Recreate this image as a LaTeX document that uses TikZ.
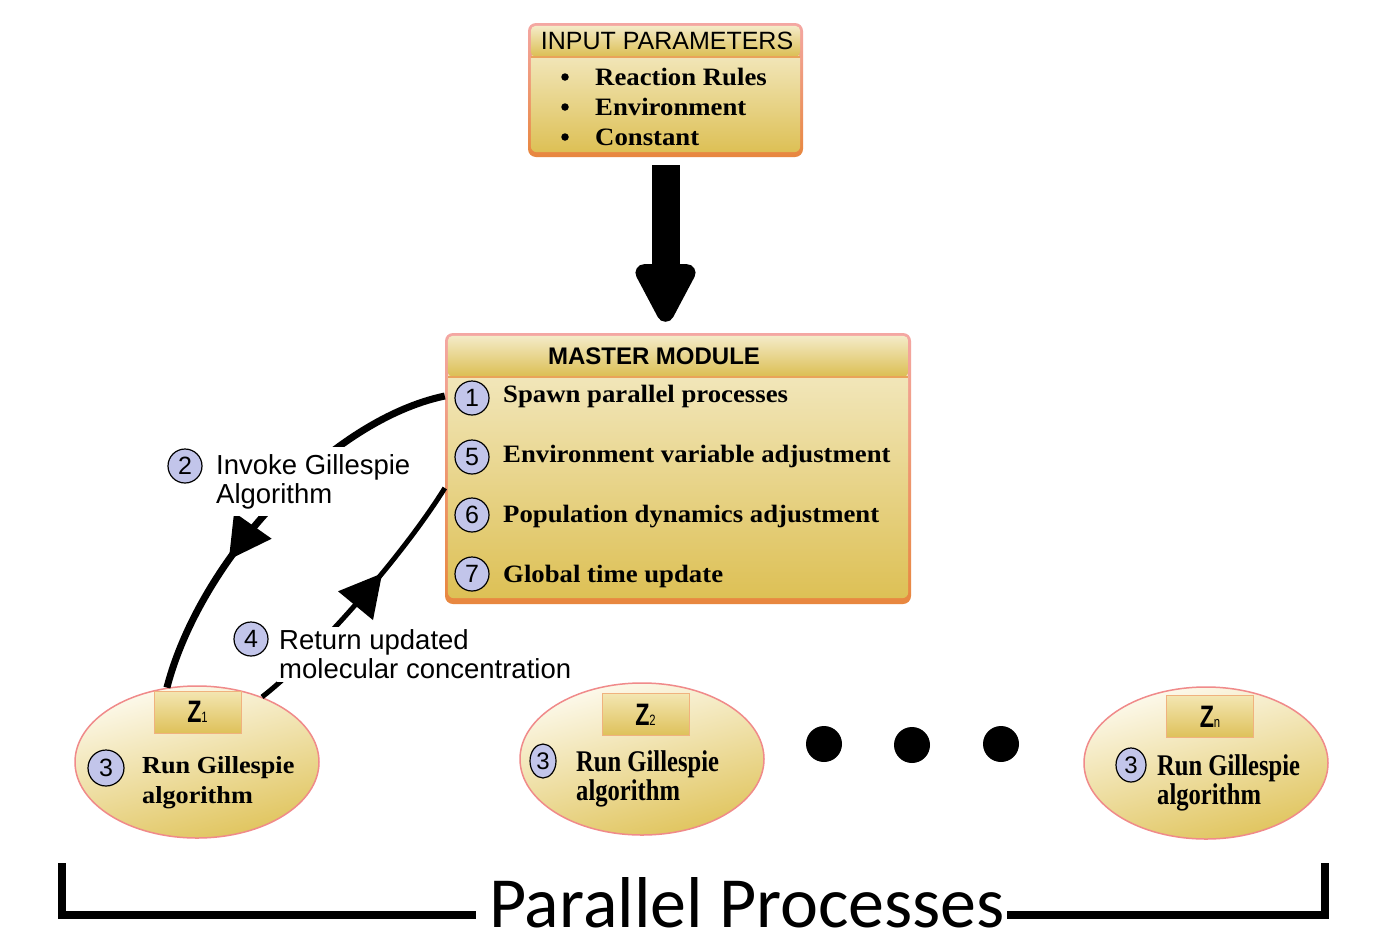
\documentclass[tikz,border=0pt]{standalone}
\usepackage{fontspec}
\setmainfont{Liberation Serif}
\setsansfont{Liberation Sans}
\newfontfamily\cambf[FakeStretch=1.07]{Liberation Serif}
\newfontfamily\condf[FakeStretch=0.82]{Liberation Serif}
\newfontfamily\zedf[FakeStretch=0.75]{Liberation Sans}
\newfontfamily\arlf{Liberation Sans}
\newfontfamily\calf{Carlito}
\usetikzlibrary{arrows.meta,decorations.markings,shapes.geometric,calc}
\definecolor{bdtop}{HTML}{F4A7A3}
\definecolor{bdbot}{HTML}{E8873F}
\definecolor{bodytop}{HTML}{F2E7BC}
\definecolor{bodybot}{HTML}{DDC055}
\definecolor{hdtop}{HTML}{F4EBC8}
\definecolor{hdbot}{HTML}{DBBE52}
\definecolor{hdline}{HTML}{E9A35A}
\definecolor{numfill}{HTML}{C2C5EA}
\definecolor{ellbd}{HTML}{F08A8A}
\definecolor{elltop}{HTML}{FDFAEE}
\definecolor{ellbot}{HTML}{E0C45C}
\definecolor{zbd}{HTML}{F0B27E}
\definecolor{ztop}{HTML}{F3E6B2}
\definecolor{zbot}{HTML}{DEC15A}
\tikzset{
  outerbox/.style={rectangle, rounded corners=8pt, top color=bdtop, bottom color=bdbot, inner sep=0pt},
  hdr/.style={rounded corners=5pt, top color=hdtop, bottom color=hdbot},
  bodyfill/.style={rounded corners=6pt, top color=bodytop, bottom color=bodybot},
  num/.style={circle, draw=black, line width=1.2pt, fill=numfill, minimum size=34pt, inner sep=0pt, font=\arlf\fontsize{25}{25}\selectfont},
  numel/.style={ellipse, draw=black, line width=1.2pt, fill=numfill, minimum width=26pt, minimum height=34pt, inner sep=0pt, font=\arlf\fontsize{24}{24}\selectfont},
  item/.style={anchor=base west, inner sep=0pt, font=\cambf\bfseries\fontsize{25}{25}\selectfont},
  condtext/.style={anchor=base west, inner sep=0pt, font=\condf\bfseries\fontsize{30}{30}\selectfont},
  proc/.style={ellipse, minimum width=244pt, minimum height=152pt, draw=ellbd, line width=1.5pt, top color=elltop, bottom color=ellbot, shading angle=15},
  zbox/.style={rectangle, minimum width=87pt, minimum height=42pt, draw=zbd, line width=1pt, top color=ztop, bottom color=zbot, inner sep=0pt, font=\zedf\bfseries\fontsize{31}{31}\selectfont},
  lab/.style={fill=white, align=left, inner xsep=2pt, inner ysep=7pt, anchor=west, font=\arlf\fontsize{27.5}{29}\selectfont},
  bigdot/.style={circle, fill=black, minimum size=36pt, inner sep=0pt},
  bullet/.style={circle, fill=black, minimum size=7.5pt, inner sep=0pt},
  midtip/.style={postaction={decorate}, decoration={markings, mark=at position #1 with {\arrow{Triangle[length=42pt,width=44pt]}}}}
}
\newcommand{\zsubx}[1]{{\fontsize{15}{15}\selectfont\mdseries #1}}
\begin{document}
\begin{tikzpicture}[x=1pt,y=-1pt]
\useasboundingbox[fill=white] (0,0) rectangle (1378,943);

% INPUT PARAMETERS box
\node[outerbox, minimum width=275pt, minimum height=134pt] (input) at (665.5,90) {};
\path[bodyfill] ($(input.north west)+(3,30)$) rectangle ($(input.south east)+(-3,-5)$);
\path[hdr] ($(input.north west)+(3,3)$) rectangle ($(input.north east)+(-3,34)$);
\draw[hdline, line width=1.5pt] ($(input.north west)+(3,34)$) -- ($(input.north east)+(-3,34)$);
\node[font=\arlf\fontsize{25}{25}\selectfont, inner sep=0pt] (intitle) at (667,40.5) {INPUT PARAMETERS};
\node[bullet] (b1) at (565,77) {};
\node[bullet] (b2) at (565,107) {};
\node[bullet] (b3) at (565,137) {};
\node[item] (i1) at (595,85) {Reaction Rules};
\node[item] (i2) at (595,115) {Environment};
\node[item] (i3) at (595,145) {Constant};

% MASTER MODULE box
\node[outerbox, minimum width=466pt, minimum height=271pt] (master) at (678,468.5) {};
\path[bodyfill] ($(master.north west)+(3,38)$) rectangle ($(master.south east)+(-3,-6)$);
\path[hdr] ($(master.north west)+(3,3)$) rectangle ($(master.north east)+(-3,44)$);
\draw[hdline, line width=1.5pt] ($(master.north west)+(3,44)$) -- ($(master.north east)+(-3,44)$);
\node[font=\arlf\bfseries\fontsize{24}{24}\selectfont, inner sep=0pt] (mtitle) at (654,356) {MASTER MODULE};
\node[num] (n1) at (472,398) {1};
\node[num] (n5) at (472,457) {5};
\node[num] (n6) at (472,515) {6};
\node[num] (n7) at (472,574) {7};
\node[item] (m1) at (503,402) {Spawn parallel processes};
\node[item] (m5) at (503,462) {Environment variable adjustment};
\node[item] (m6) at (503,522) {Population dynamics adjustment};
\node[item] (m7) at (503,582) {Global time update};

% big arrow
\draw[line width=28pt, -{Triangle[length=69pt,width=66pt,round]}, shorten <=8pt, shorten >=11pt] (input.south) -- (input.south |- master.north);

% process ellipses
\node[proc] (z1) at (197,762) {};
\node[proc] (z2) at (642,759) {};
\node[proc] (zn) at (1206,763) {};
\node[zbox] (z1lab) at (197.5,712) {Z\zsubx{1}};
\node[zbox] (z2lab) at (645.5,714.5) {Z\zsubx{2}};
\node[zbox] (znlab) at (1210,716.5) {Z\zsubx{n}};
\node[num, minimum size=36pt] (z1n) at (106,768) {3};
\node[numel] (z2n) at (543,761) {3};
\node[numel, minimum width=30pt] (znn) at (1131,765) {3};
\node[item, font=\cambf\bfseries\fontsize{24.5}{24.5}\selectfont] (z1t1) at (142,773) {Run Gillespie};
\node[item, font=\cambf\bfseries\fontsize{24.5}{24.5}\selectfont] (z1t2) at (142,803) {algorithm};
\node[condtext] (z2t1) at (576,771) {Run Gillespie};
\node[condtext] (z2t2) at (576,800) {algorithm};
\node[condtext] (znt1) at (1157,775) {Run Gillespie};
\node[condtext] (znt2) at (1157,804) {algorithm};

% dots
\node[bigdot] (d1) at (824,744) {};
\node[bigdot] (d2) at (912,745) {};
\node[bigdot] (d3) at (1001,744) {};

% connectors
\draw[line width=7pt, midtip=0.66] ([yshift=72.5pt]master.west) .. controls (330,420) and (200,560) .. (z1.112);
\draw[line width=5pt, midtip=0.62] (z1.45) .. controls (310,660) and (400,560) .. ([yshift=-19.5pt]master.west);

% labels
\node[num] (n2) at (185,466) {2};
\node[lab] (t2) at (214,481.5) {Invoke Gillespie\\Algorithm};
\node[num] (n4) at (251,639) {4};
\node[lab, inner ysep=3pt] (t4) at (277,654.5) {Return updated\\molecular concentration};

% bracket
\coordinate (bl1) at (62,863);
\coordinate (bl2) at (62,915);
\coordinate (bl3) at (476,915);
\coordinate (br1) at (1325,863);
\coordinate (br2) at (1325,915);
\coordinate (br3) at (1007,915);
\node[font=\calf\fontsize{72}{72}\selectfont, inner sep=0pt, anchor=base] (pp) at (747,927) {Parallel Processes};
\draw[line width=8.5pt] (bl1) -- (bl2) -- (bl3);
\draw[line width=8.5pt] (br1) -- (br2) -- (br3);
\end{tikzpicture}
\end{document}
